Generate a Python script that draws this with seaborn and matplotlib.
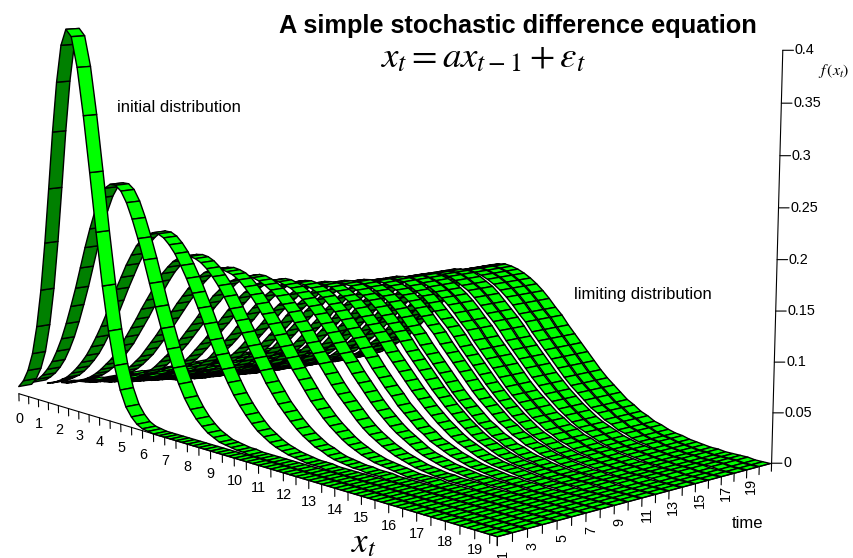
import numpy as np, matplotlib
matplotlib.use("Agg")
import matplotlib.pyplot as plt
from mpl_toolkits.mplot3d import proj3d
from mpl_toolkits.mplot3d.art3d import Poly3DCollection
import seaborn as sns

# f(x_t) heights in thousandths, one value per x cell (0.25 wide)
ribbon_1 = [8,16,29,49,80,121,173,232,293,346,385,402,395,364,315,257,196,141,95,60,36,20,11,5,2,1]
ribbon_2 = [10,15,21,29,39,52,67,85,105,126,149,172,193,212,228,239,244,244,239,228,212,193,172,149,126,105,85,67,52,39,29,21,15,10,7,4,3,2,1,1]
ribbon_3 = [6,8,11,15,19,25,32,40,49,60,72,85,99,114,129,143,157,169,180,188,194,197,197,194,188,180,169,157,143,129,114,99,85,72,60,49,40,32,25,19,15,11,8,6,4,3,2,1,1,1]
ribbon_4 = [4,5,7,10,12,16,20,25,31,38,45,54,63,74,85,96,108,119,130,141,151,159,166,171,174,175,174,171,166,159,151,141,130,119,108,96,85,74,63,54,45,38,31,25,20,16,12,10,7,5,4,3,2,2,1,1,1]
ribbon_5 = [3,4,5,6,8,10,13,16,20,25,30,36,43,50,59,68,77,87,97,107,117,126,135,143,150,156,160,162,163,162,160,156,150,143,135,126,117,107,97,87,77,68,59,50,43,36,30,25,20,16,13,10,8,6,5,4,3,2,1,1,1,1]
ribbon_6 = [2,2,3,4,5,7,9,11,14,17,21,25,30,36,43,50,57,65,74,83,92,101,111,119,128,135,142,147,151,154,156,156,154,151,147,142,135,128,119,111,101,92,83,74,65,57,50,43,36,30,25,21,17,14,11,9,7,5,4,3,2,2,1,1,1,1]
ribbon_7 = [1,2,2,3,4,5,6,8,10,12,15,19,23,27,32,38,44,51,59,67,75,84,92,101,110,118,126,133,139,144,148,150,152,152,150,148,144,139,133,126,118,110,101,92,84,75,67,59,51,44,38,32,27,23,19,15,12,10,8,6,5,4,3,2,2,1,1,1,1]
ribbon_8 = [1,1,2,2,3,4,5,6,8,10,12,15,18,21,26,30,36,42,48,56,63,71,79,88,96,105,113,121,128,134,140,144,147,149,150,149,147,144,140,134,128,121,113,105,96,88,79,71,63,56,48,42,36,30,26,21,18,15,12,10,8,6,5,4,3,2,2,1,1,1]
# late ribbons share one shape; the first is centred on a cell edge, the second on a cell middle
limit_edge = [1,1,1,1,2,2,3,4,5,7,8,10,13,15,19,22,27,31,37,43,49,56,64,72,80,88,96,105,112,120,127,133,138,142,145,147,148,147,145,142,138,133,127,120,112,105,96,88,80,72,64,56,49,43,37,31,27,22,19,15,13,10,8,7,5,4,3,2,2,1,1,1,1]
limit_mid = [1,1,1,2,2,3,4,5,6,7,9,11,14,17,20,24,29,34,40,46,53,60,68,76,84,92,101,109,116,123,130,136,140,144,147,148,148,147,144,140,136,130,123,116,109,101,92,84,76,68,60,53,46,40,34,29,24,20,17,14,11,9,7,6,5,4,3,2,2,1,1,1]
early_ribbons = [ribbon_1, ribbon_2, ribbon_3, ribbon_4, ribbon_5, ribbon_6, ribbon_7, ribbon_8]
late_shapes = [limit_mid, limit_mid, limit_edge, limit_edge, limit_mid, limit_edge, limit_edge, limit_mid, limit_mid, limit_edge, limit_edge, limit_edge]
late_first_cell = [0, 1, 1, 2, 3, 3, 3, 4, 4, 4, 4, 4]
x_tick_labels = list(range(20))
time_tick_labels = [1, 3, 5, 7, 9, 11, 13, 15, 17, 19]
z_ticks = [0, 0.05, 0.1, 0.15, 0.2, 0.25, 0.3, 0.35, 0.4]
z_tick_labels = ["0", "0.05", "0.1", "0.15", "0.2", "0.25", "0.3", "0.35", "0.4"]

N = 80
X_MAX = 19.75
WIDTH = 0.9
sns.set_theme(style="white")
bright, dark = sns.color_palette(["#00ff00", "#008000"])
plt.rcParams['font.family'] = ['Liberation Sans', 'DejaVu Sans']
plt.rcParams['mathtext.fontset'] = 'stix'

fig = plt.figure(figsize=(8.54, 5.58), dpi=100)
s, a, d = 4748.05, 373.44, 323.66
w_px = 0.185 * s
ax = fig.add_axes([(a - 0.095 * s) / 854, (d - 0.095 * s) / 558, w_px / 854, w_px / 558], projection='3d')
ax.set_xlim(0, X_MAX); ax.set_ylim(1, 21); ax.set_zlim(0, 0.4)
ax.view_init(9.37, -42.02)
ax.set_proj_type('persp', focal_length=0.5178)
ax.set_box_aspect((1, 0.5081, 0.5435))
ax.set_axis_off()
ax.computed_zorder = False
fig.patch.set_facecolor('white')

rows = []
for r in early_ribbons:
    rows.append(np.r_[r, np.zeros(N - len(r))])
for r, first in zip(late_shapes, late_first_cell):
    rows.append(np.r_[np.zeros(first), r, np.zeros(N - first - len(r))])
Z = np.array(rows) * 0.001
xs = np.arange(N) * 0.25
M = ax.get_proj()

verts, faces = [], []
for i, row in enumerate(Z):
    t0, t1 = i + 1, i + 1 + WIDTH
    for k in range(N - 1):
        q = [(xs[k], t0, row[k]), (xs[k + 1], t0, row[k + 1]), (xs[k + 1], t1, row[k + 1]), (xs[k], t1, row[k])]
        verts.append(q)
        qa = np.array(q)
        u, v, _ = proj3d.proj_transform(qa[:, 0], qa[:, 1], qa[:, 2], M)
        area = np.sum(u * np.roll(v, -1) - np.roll(u, -1) * v)
        faces.append(bright if area > 0 else dark)
ax.add_collection3d(Poly3DCollection(verts, facecolors=faces, edgecolors='black', linewidths=1.0, zsort='average', shade=False, zorder=1))

lk = dict(color='black', lw=0.8, zorder=2)
ax.plot([0, X_MAX], [1, 1], [0, 0], **lk)
ax.plot([X_MAX, X_MAX], [1, 21], [0, 0], **lk)
ax.plot([X_MAX, X_MAX], [21, 21], [0, 0.4], **lk)
for v in np.r_[np.arange(0, 19.75, 0.5), X_MAX]:
    ax.plot([v, v], [1, 1], [0, -0.008], **lk)
for v in range(1, 22):
    ax.plot([X_MAX, X_MAX], [v, v], [0, -0.008], **lk)

def text3(x, y, z, txt, **kw):
    u, v, _ = proj3d.proj_transform(float(x), float(y), float(z), M)
    ax.text2D(u, v, txt, transform=ax.transData, color='black', fontsize=10.4, clip_on=False, **kw)

for v in x_tick_labels:
    text3(v, 1, -0.028 + 0.0005 * v, str(v), ha='center', va='center')
for v in time_tick_labels:
    text3(X_MAX, v + 0.35, -0.017, str(v), ha='center', va='center', rotation=90)
for v, lab in zip(z_ticks, z_tick_labels):
    ax.plot([X_MAX, X_MAX + 0.18], [21, 21.4], [v, v], **lk)
    text3(X_MAX + 0.2, 21.45, v, lab, ha='left', va='center')

def label(px, py, txt, **kw):
    fig.text(px / 854, 1 - py / 558, txt, color='black', **kw)

label(518, 26, "A simple stochastic difference equation", fontsize=18.3, fontweight='bold', ha='center', va='center')
label(483, 58, r"$x_t=ax_{t-1}+\varepsilon_t$", fontsize=26.6, ha='center', va='center')
label(117, 107, "initial distribution", fontsize=12, ha='left', va='center')
label(574, 294, "limiting distribution", fontsize=12, ha='left', va='center')
label(748, 523, "time", fontsize=12, ha='center', va='center')
label(364, 543, r"$x_t$", fontsize=25, ha='center', va='center')
label(818, 71, r"$f\,(x_t)$", fontsize=11.5, ha='left', va='center')
fig.savefig("out.png", dpi=100, facecolor='white')
